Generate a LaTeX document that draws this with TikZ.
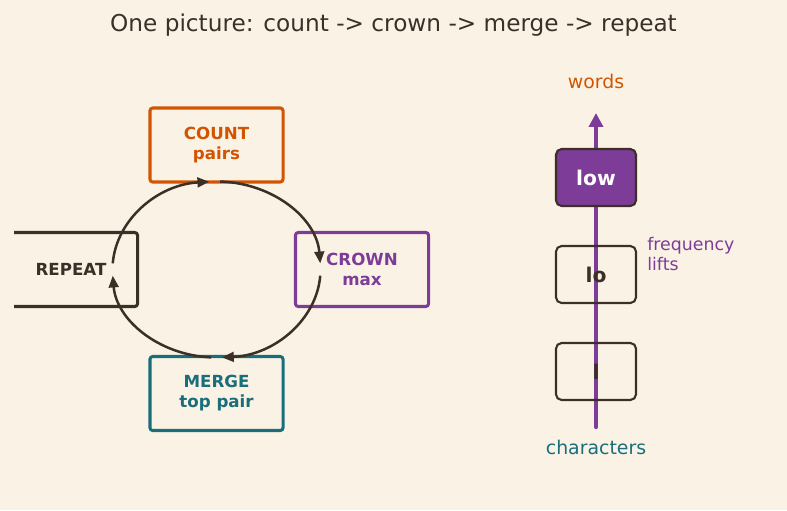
\documentclass[tikz,border=0pt]{standalone}
\usepackage{fontspec}
\setmainfont{DejaVu Sans}
\usetikzlibrary{arrows.meta}
\definecolor{paper}{HTML}{FAF3E5}
\definecolor{ink}{HTML}{3B2F28}
\definecolor{rust}{HTML}{D35400}
\definecolor{plum}{HTML}{7D3C98}
\definecolor{sea}{HTML}{1A6E7C}
\begin{document}
\begin{tikzpicture}
[x=0.72pt,y=-0.72pt,
every node/.style={inner sep=0pt},
stage/.style={draw,line width=2.2pt,rounded corners=2pt,minimum width=95.8pt,minimum height=53.3pt,align=center,font=\bfseries\fontsize{12}{14.4}\selectfont},
token/.style={draw=ink,line width=1.5pt,rounded corners=4pt,minimum width=57.6pt,minimum height=41pt,text=ink,font=\bfseries\fontsize{14.6}{16}\selectfont},
flow/.style={ink,line width=1.8pt,-{Triangle[length=8.5pt,width=7pt]}},
lift/.style={plum,line width=3pt,line cap=round,-{Triangle[length=10pt,width=10pt]}}]
\fill[paper] (0,0) rectangle (787,510);
\useasboundingbox (0,0) rectangle (787,510);
\node[text=ink,font=\fontsize{16.7}{19}\selectfont] (title) at (393.5,25) {One picture: count -> crown -> merge -> repeat};
% the loop
\node[stage,draw=rust,text=rust] (count) at (216.5,145) {COUNT\\pairs};
\node[stage,draw=plum,text=plum] (crown) at (362,269.5) {CROWN\\max};
\node[stage,draw=sea,text=sea] (merge) at (216.5,393.5) {MERGE\\top pair};
\begin{scope}
\clip (14,0) rectangle (787,510);
\node[stage,draw=ink,text=ink] (repeat) at (71,269.5) {REPEAT};
\end{scope}
\coordinate (ring) at (216.5,269.5);
\draw[flow] (ring) ++(-88:104 and 88) arc[start angle=-88,end angle=-4,x radius=104,y radius=88];
\draw[flow] (ring) ++(4:104 and 88) arc[start angle=4,end angle=87,x radius=104,y radius=88];
\draw[flow] (ring) ++(93:104 and 88) arc[start angle=93,end angle=176,x radius=104,y radius=88];
\draw[flow] (ring) ++(184:104 and 88) arc[start angle=184,end angle=266,x radius=104,y radius=88];
% the ladder
\coordinate (lift0) at (596,427);
\coordinate (lift1) at (596,113);
\draw[lift] (lift0) -- (lift1);
\node[token,fill=plum,text=white] (low) at (596,177.5) {low};
\node[token] (lo) at (596,274.5) {lo};
\node[token] (l) at (596,371.5) {l};
\node[text=rust,font=\fontsize{13.6}{15}\selectfont] (words) at (596,81) {words};
\node[text=sea,font=\fontsize{13.6}{15}\selectfont] (chars) at (596,447) {characters};
\node[text=plum,align=left,anchor=west,font=\fontsize{12.5}{15}\selectfont] (freq) at (647,254) {frequency\\lifts};
\end{tikzpicture}
\end{document}
